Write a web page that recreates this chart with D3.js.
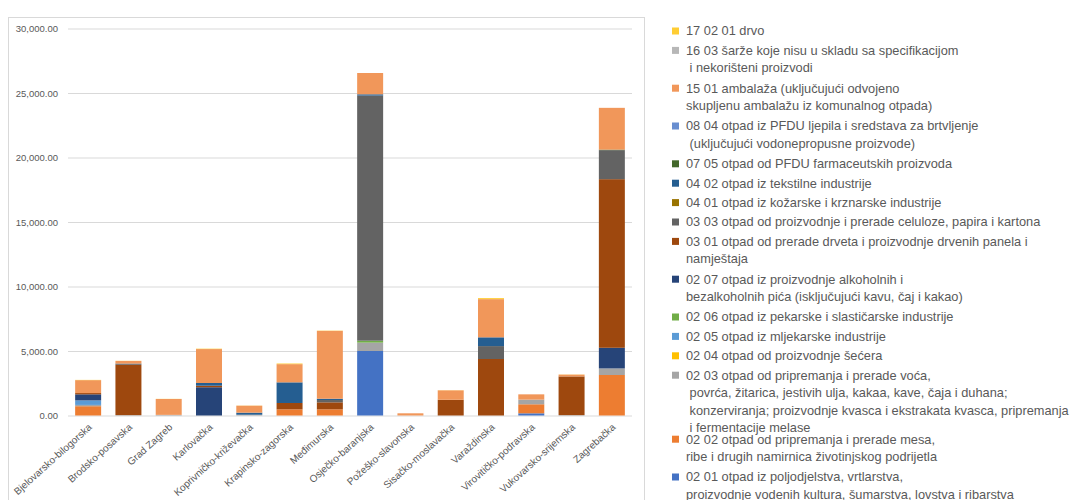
<!DOCTYPE html>
<html>
<head>
<meta charset="utf-8">
<script src="https://cdn.jsdelivr.net/npm/d3@7"></script>
<style>
  html, body { margin: 0; padding: 0; background: #fff; }
  svg { display: block; font-family: "Liberation Sans", Arial, sans-serif; }
  text { white-space: pre; }
</style>
</head>
<body>
<svg id="chart" width="1075" height="500"></svg>
<script>
// ---- DATA ----
const categories = ["Bjelovarsko-bilogorska","Brodsko-posavska","Grad Zagreb","Karlovačka",
  "Koprivničko-križevačka","Krapinsko-zagorska","Međimurska","Osječko-baranjska",
  "Požeško-slavonska","Sisačko-moslavačka","Varaždinska","Virovitičko-podravska",
  "Vukovarsko-srijemska","Zagrebačka"];

// series values, bottom of stack first
const s0201   = [0,    0,    0,    0,    0,    0,    0,    5000,  0,   0,    0,    170, 0,    0];
const s0202   = [720,  0,    0,    0,    0,    480,  480,  0,     0,   0,    0,    700, 0,    3140];
const s0203   = [100,  30,   50,   0,    60,   0,    0,    650,   0,   0,    0,    360, 30,   510];
const s0204   = [0,    0,    0,    0,    0,    0,    0,    0,     0,   0,    0,    0,   0,    0];
const s0205   = [350,  0,    0,    0,    0,    0,    0,    0,     0,   0,    0,    0,   0,    0];
const s0206   = [0,    0,    0,    0,    0,    0,    0,    150,   0,   0,    0,    0,   0,    0];
const s0207   = [470,  0,    0,    2190, 0,    0,    0,    0,     0,   0,    0,    0,   0,    1600];
const s0301   = [100,  3900, 0,    120,  0,    490,  540,  0,     0,   1220, 4380, 0,   3000, 13070];
const s0303   = [0,    100,  0,    0,    0,    0,    180,  19000, 0,   0,    1000, 0,   0,    2250];
const s0401   = [0,    0,    0,    0,    0,    0,    0,    0,     0,   0,    0,    0,   0,    0];
const s0402   = [0,    0,    0,    210,  160,  1600, 100,  100,   0,   0,    680,  0,   0,    0];
const s0705   = [0,    0,    0,    0,    0,    0,    0,    0,     0,   0,    0,    0,   0,    40];
const s0804   = [0,    0,    0,    0,    0,    0,    0,    0,     0,   0,    0,    0,   0,    0];
const s1501   = [1000, 200,  1230, 2630, 540,  1410, 5260, 1650,  170, 730,  2960, 410, 140,  3240];
const s1603   = [0,    0,    0,    0,    0,    0,    0,    0,     0,   0,    0,    0,   0,    0];
const s170201 = [20,   10,   10,   30,   10,   50,   20,   0,     0,   10,   80,   0,   10,   0];

const seriesValues = [s0201,s0202,s0203,s0204,s0205,s0206,s0207,s0301,s0303,s0401,s0402,s0705,s0804,s1501,s1603,s170201];

const seriesLabels = [
  ["02 01 otpad iz poljodjelstva, vrtlarstva,", "proizvodnje vodenih kultura, šumarstva, lovstva i ribarstva"],
  ["02 02 otpad od pripremanja i prerade mesa,", "ribe i drugih namirnica životinjskog podrijetla"],
  ["02 03 otpad od pripremanja i prerade voća,", " povrća, žitarica, jestivih ulja, kakaa, kave, čaja i duhana;", " konzerviranja; proizvodnje kvasca i ekstrakata kvasca, pripremanja", " i fermentacije melase"],
  ["02 04 otpad od proizvodnje šećera"],
  ["02 05 otpad iz mljekarske industrije"],
  ["02 06 otpad iz pekarske i slastičarske industrije"],
  ["02 07 otpad iz proizvodnje alkoholnih i", "bezalkoholnih pića (isključujući kavu, čaj i kakao)"],
  ["03 01 otpad od prerade drveta i proizvodnje drvenih panela i", "namještaja"],
  ["03 03 otpad od proizvodnje i prerade celuloze, papira i kartona"],
  ["04 01 otpad iz kožarske i krznarske industrije"],
  ["04 02 otpad iz tekstilne industrije"],
  ["07 05 otpad od PFDU farmaceutskih proizvoda"],
  ["08 04 otpad iz PFDU ljepila i sredstava za brtvljenje", " (uključujući vodonepropusne proizvode)"],
  ["15 01 ambalaža (uključujući odvojeno", "skupljenu ambalažu iz komunalnog otpada)"],
  ["16 03 šarže koje nisu u skladu sa specifikacijom", " i nekorišteni proizvodi"],
  ["17 02 01 drvo"]
];

const seriesColors = ["#4472C4","#ED7D31","#A5A5A5","#FFC000","#5B9BD5","#70AD47","#264478","#9E480E",
  "#636363","#997300","#255E91","#43682B","#698ED0","#F1975A","#B7B7B7","#FFCD33"];

const yTicks = [0, 5000, 10000, 15000, 20000, 25000, 30000];

// ---- CHART ----
const svg = d3.select("#chart");
const plot = {left: 68, right: 632, top: 28.5, bottom: 415.5};

// chart frame
svg.append("rect").attr("x", 8.5).attr("y", 17.5).attr("width", 636).attr("height", 500)
  .attr("fill", "none").attr("stroke", "#D9D9D9").attr("stroke-width", 1);

const x = d3.scaleBand().domain(categories).range([plot.left, plot.right])
  .paddingInner(0.355).paddingOuter(0.1775);
const y = d3.scaleLinear().domain([0, 30000]).range([plot.bottom, plot.top]);

// gridlines + y labels
const yAxis = d3.axisLeft(y).tickValues(yTicks).tickFormat(d3.format(",.2f"))
  .tickSize(-(plot.right - plot.left)).tickPadding(10);
const gy = svg.append("g").attr("transform", `translate(${plot.left},0)`).call(yAxis);
gy.select(".domain").remove();
gy.selectAll(".tick line").attr("stroke", "#D9D9D9").attr("stroke-width", 1);
gy.selectAll(".tick text").attr("fill", "#595959").style("font-size", "9.5px")
  .style("font-family", "'Liberation Sans', Arial, sans-serif");

// stacked data
const rows = categories.map((c, i) => {
  const r = {cat: c};
  seriesValues.forEach((arr, k) => r["s" + k] = arr[i]);
  return r;
});
const keys = seriesValues.map((_, k) => "s" + k);
const stacked = d3.stack().keys(keys)(rows);

svg.append("g").selectAll("g").data(stacked).join("g")
  .attr("fill", (d, k) => seriesColors[k])
  .selectAll("rect").data(d => d).join("rect")
  .attr("x", d => x(d.data.cat))
  .attr("width", x.bandwidth())
  .attr("y", d => y(d[1]))
  .attr("height", d => Math.max(0, y(d[0]) - y(d[1])));

// category labels
const xAxis = d3.axisBottom(x).tickSize(0).tickPadding(0);
const gx = svg.append("g").attr("transform", `translate(0,${plot.bottom})`).call(xAxis);
gx.select(".domain").remove();
gx.selectAll(".tick text")
  .attr("fill", "#595959").style("font-size", "10px")
  .style("font-family", "'Liberation Sans', Arial, sans-serif")
  .attr("text-anchor", "end")
  .attr("dy", "0.35em")
  .attr("transform", "translate(2,10) rotate(-42)");

// legend (top entry = last series)
const legend = svg.append("g").attr("class", "legend");
const lineH = 18.4, entryGap = 1, maxSlot = 64;
let ly = 31;
for (let k = seriesLabels.length - 1; k >= 0; k--) {
  const lines = seriesLabels[k];
  const g = legend.append("g");
  g.append("rect").attr("x", 672).attr("y", ly - 3.5).attr("width", 7).attr("height", 7)
    .attr("fill", seriesColors[k]);
  lines.forEach((t, j) => {
    g.append("text").attr("x", 686).attr("y", ly + j * 17.6).attr("dy", "0.35em")
      .attr("fill", "#595959").style("font-size", "12.8px")
      .style("font-family", "'Liberation Sans', Arial, sans-serif")
      .text(t);
  });
  ly += Math.min(lines.length * lineH + entryGap, maxSlot);
}
</script>
</body>
</html>
